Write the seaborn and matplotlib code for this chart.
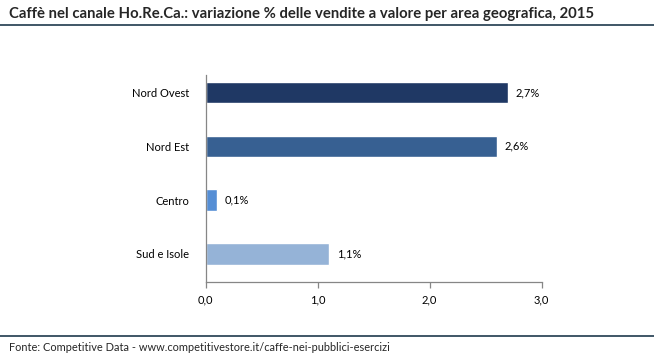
"""Caffè nel canale Ho.Re.Ca.: variazione % vendite per area geografica."""

import matplotlib

matplotlib.use("Agg")

import matplotlib.pyplot as plt
import pandas as pd
import seaborn as sns
from matplotlib.lines import Line2D
from matplotlib.ticker import FuncFormatter

areas = ["Nord Ovest", "Nord Est", "Centro", "Sud e Isole"]
variazione = [2.7, 2.6, 0.1, 1.1]
colori = ["#1f3864", "#376092", "#558ed5", "#95b3d7"]
x_ticks = [0.0, 1.0, 2.0, 3.0]

title = "Caffè nel canale Ho.Re.Ca.: variazione % delle vendite a valore per area geografica, 2015"
source = "Fonte: Competitive Data - www.competitivestore.it/caffe-nei-pubblici-esercizi"

df = pd.DataFrame({"area": areas, "valore": variazione})

sns.set_theme(style="white")
plt.rcParams["font.family"] = ["Lato", "DejaVu Sans"]

fig = plt.figure(figsize=(6.54, 3.63), dpi=100)
ax = fig.add_axes([0.3145, 0.224, 0.5138, 0.5694])

sns.barplot(data=df, x="valore", y="area", hue="area", palette=colori,
            width=0.4, legend=False, ax=ax, saturation=1)

ax.set_xlim(0, 3)
ax.set_ylim(3.515, -0.325)
ax.set_xticks(x_ticks)
ax.xaxis.set_major_formatter(FuncFormatter(lambda v, _: f"{v:.1f}".replace(".", ",")))
ax.set_xlabel("")
ax.set_ylabel("")

for spine in ["top", "right"]:
    ax.spines[spine].set_visible(False)
for spine in ["left", "bottom"]:
    ax.spines[spine].set_color("#868686")
    ax.spines[spine].set_linewidth(0.9)

ax.tick_params(axis="x", bottom=True, direction="out", length=4, width=0.9,
               color="#868686", labelsize=8, labelcolor="#000000", pad=5)
ax.tick_params(axis="y", left=False, labelsize=8, labelcolor="#000000", pad=6)

for i, v in enumerate(variazione):
    ax.text(v + 0.07, i, f"{v:.1f}%".replace(".", ","), va="center", ha="left",
            fontsize=8, color="#000000")

fig.text(0.0138, 0.962, title, fontsize=10.7, fontweight="bold", ha="left", va="center")
fig.text(0.0138, 0.044, source, fontsize=7.9, ha="left", va="center")

for y in [0.931, 0.074]:
    fig.add_artist(Line2D([0, 1], [y, y], transform=fig.transFigure,
                          color="#1f3a4d", linewidth=1.2))

fig.savefig("out.png", dpi=100)
